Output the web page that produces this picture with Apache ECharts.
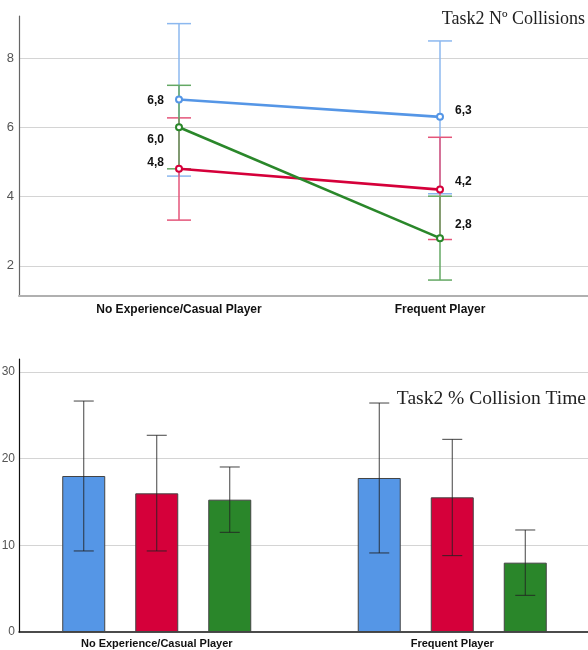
<!DOCTYPE html>
<html>
<head>
<meta charset="utf-8">
<script src="https://cdn.jsdelivr.net/npm/echarts@6/dist/echarts.min.js"></script>
<style>html,body{margin:0;padding:0;background:#fff}#c{width:588px;height:650px}</style>
</head>
<body>
<div id="c"></div>
<script>
// ---- data ----
const categories = ['No Experience/Casual Player', 'Frequent Player'];
const groupNames = ['Blue', 'Red', 'Green'];

// Top chart: Task2 Nº Collisions (means + error bar low/high)
const colMean  = [[6.8, 6.3], [4.8, 4.2], [6.0, 2.8]];
const colLow   = [[4.59, 4.08], [3.32, 2.76], [4.80, 1.59]];
const colHigh  = [[8.99, 8.49], [6.27, 5.71], [7.21, 4.01]];
const colTicks = [2, 4, 6, 8];

// Bottom chart: Task2 % Collision Time
const pctMean = [[18.0, 17.77], [16.0, 15.54], [15.27, 8.0]];
const pctLow  = [[9.35, 9.12], [9.35, 8.81], [11.5, 4.23]];
const pctHigh = [[26.65, 26.42], [22.7, 22.23], [19.04, 11.77]];
const pctTicks = [0, 10, 20, 30];

// ---- styles ----
const lineColors = ['#5596e6', '#d5003a', '#2a872a'];
const errColors  = ['#8cb8ef', '#e4557a', '#64a864'];
const barColors  = ['#5596e6', '#d5003a', '#2a862a'];
// label offsets per series per category (px)
const labelOffsets = [[[-6, 1], [6, -6]], [[-6, -6], [6, -8]], [[-6, 12], [6, -13]]];

const fmt = v => v.toFixed(1).replace('.', ',');

const chart = echarts.init(document.getElementById('c'), null, {renderer: 'canvas'});

const TOP = {top: 16, height: 280};
const BOT = {top: 359, height: 273};

function errSeries(name, low, high, color, xi, yi, capW, lw, z) {
  return {
    type: 'custom', name: name, xAxisIndex: xi, yAxisIndex: yi, z: z,
    silent: true,
    data: low.map((l, i) => [i, l, high[i]]),
    renderItem: function (params, api) {
      const x = api.value(0);
      const lo = api.coord([x, api.value(1)]);
      const hi = api.coord([x, api.value(2)]);
      const cx = lo[0];
      const st = {stroke: color, lineWidth: lw};
      return {type: 'group', children: [
        {type: 'line', shape: {x1: cx, y1: lo[1], x2: cx, y2: hi[1]}, style: st},
        {type: 'line', shape: {x1: cx - capW / 2, y1: lo[1], x2: cx + capW / 2, y2: lo[1]}, style: st},
        {type: 'line', shape: {x1: cx - capW / 2, y1: hi[1], x2: cx + capW / 2, y2: hi[1]}, style: st}
      ]};
    }
  };
}

const series = [];

// top chart: error bars
for (let s = 0; s < 3; s++) {
  series.push(errSeries(groupNames[s] + ' err', colLow[s], colHigh[s], errColors[s], 1, 1, 24, 1.5, 2));
}
// top chart lines
for (let s = 0; s < 3; s++) {
  series.push({
    type: 'line', name: groupNames[s], xAxisIndex: 1, yAxisIndex: 1, z: 5,
    data: colMean[s].map((v, i) => ({
      value: v,
      label: {offset: labelOffsets[s][i], position: i === 0 ? 'left' : 'right'}
    })),
    symbol: 'emptyCircle', symbolSize: 6,
    lineStyle: {color: lineColors[s], width: 2.6},
    itemStyle: {color: lineColors[s], borderWidth: 1.2},
    label: {show: true, formatter: p => fmt(p.value), color: '#111',
      fontFamily: 'Liberation Sans, Arial', fontWeight: 'bold', fontSize: 12},
    animation: false
  });
}

// bottom chart bars
for (let s = 0; s < 3; s++) {
  series.push({
    type: 'bar', name: groupNames[s] + ' pct', xAxisIndex: 3, yAxisIndex: 3,
    data: pctMean[s], barWidth: 43, barGap: '69.8%',
    itemStyle: {color: barColors[s], borderColor: '#444', borderWidth: 1},
    animation: false
  });
}
// bottom error bars, shifted to each bar's centre within the group
const barShift = [-73, 0, 73];
for (let s = 0; s < 3; s++) {
  const sh = barShift[s];
  series.push({
    type: 'custom', xAxisIndex: 3, yAxisIndex: 3, z: 6, silent: true,
    data: pctLow[s].map((l, i) => [i, l, pctHigh[s][i]]),
    renderItem: function (params, api) {
      const x = api.value(0);
      const lo = api.coord([x, api.value(1)]);
      const hi = api.coord([x, api.value(2)]);
      const cx = lo[0] + sh;
      const st = {stroke: '#222', lineWidth: 1, opacity: 0.85};
      return {type: 'group', children: [
        {type: 'line', shape: {x1: cx, y1: lo[1], x2: cx, y2: hi[1]}, style: st},
        {type: 'line', shape: {x1: cx - 10, y1: lo[1], x2: cx + 10, y2: lo[1]}, style: st},
        {type: 'line', shape: {x1: cx - 10, y1: hi[1], x2: cx + 10, y2: hi[1]}, style: st}
      ]};
    }
  });
}

const labelFont = {fontFamily: 'Liberation Sans, Arial', fontSize: 13, color: '#555'};
const labelFontB = {fontFamily: 'Liberation Sans, Arial', fontSize: 12, color: '#555'};

chart.setOption({
  animation: false,
  title: [
    {text: 'Task2 Nº Collisions', right: -2, top: 5,
      textStyle: {fontFamily: 'Liberation Serif, Times New Roman', fontWeight: 'normal', fontSize: 18, color: '#222'}},
    {text: 'Task2 % Collision Time', right: -3, top: 384,
      textStyle: {fontFamily: 'Liberation Serif, Times New Roman', fontWeight: 'normal', fontSize: 19.5, color: '#222'}}
  ],
  grid: [
    {left: 19, right: 0, top: TOP.top, height: TOP.height, outerBoundsMode: 'none', containLabel: false},
    {left: 48.5, width: 522, top: TOP.top, height: TOP.height, outerBoundsMode: 'none', containLabel: false},
    {left: 19, right: 0, top: BOT.top, height: BOT.height, outerBoundsMode: 'none', containLabel: false},
    {left: 9, width: 591, top: BOT.top, height: BOT.height, outerBoundsMode: 'none', containLabel: false}
  ],
  xAxis: [
    {gridIndex: 0, type: 'value', min: 0, max: 1,
      axisLine: {show: true, onZero: false, lineStyle: {color: '#b0b0b0', width: 2}},
      axisTick: {show: false}, axisLabel: {show: false}, splitLine: {show: false}},
    {gridIndex: 1, type: 'category', data: categories,
      axisLine: {show: false}, axisTick: {show: false},
      axisLabel: {margin: 8, fontFamily: 'Liberation Sans, Arial', fontWeight: 'bold', fontSize: 12, color: '#111'}},
    {gridIndex: 2, type: 'value', min: 0, max: 1,
      axisLine: {show: true, onZero: false, lineStyle: {color: '#111', width: 1.5}},
      axisTick: {show: false}, axisLabel: {show: false}, splitLine: {show: false}},
    {gridIndex: 3, type: 'category', data: categories,
      axisLine: {show: false}, axisTick: {show: false},
      axisLabel: {margin: 6, fontFamily: 'Liberation Sans, Arial', fontWeight: 'bold', fontSize: 11, color: '#111'}}
  ],
  yAxis: [
    {gridIndex: 0, type: 'value', min: 1.13, max: 9.21,
      axisLine: {show: true, lineStyle: {color: '#666', width: 1.2}},
      axisTick: {show: false},
      axisLabel: Object.assign({margin: 5, showMinLabel: false, showMaxLabel: false,
        formatter: v => colTicks.includes(v) ? String(v) : ''}, labelFont),
      splitLine: {show: true, showMinLine: false, showMaxLine: false, lineStyle: {color: '#d4d4d4', width: 1.2}}},
    {gridIndex: 1, type: 'value', min: 1.13, max: 9.21, show: false, splitLine: {show: false}},
    {gridIndex: 2, type: 'value', min: 0, max: 31.5, interval: 10,
      axisLine: {show: true, lineStyle: {color: '#111', width: 1.2}},
      axisTick: {show: false},
      axisLabel: Object.assign({margin: 4, showMaxLabel: false,
        formatter: v => pctTicks.includes(v) ? String(v) : ''}, labelFontB),
      splitLine: {show: true, showMinLine: false, showMaxLine: false, lineStyle: {color: '#d4d4d4', width: 1.2}}},
    {gridIndex: 3, type: 'value', min: 0, max: 31.5, show: false, splitLine: {show: false}}
  ],
  series: series
});
</script>
</body>
</html>
